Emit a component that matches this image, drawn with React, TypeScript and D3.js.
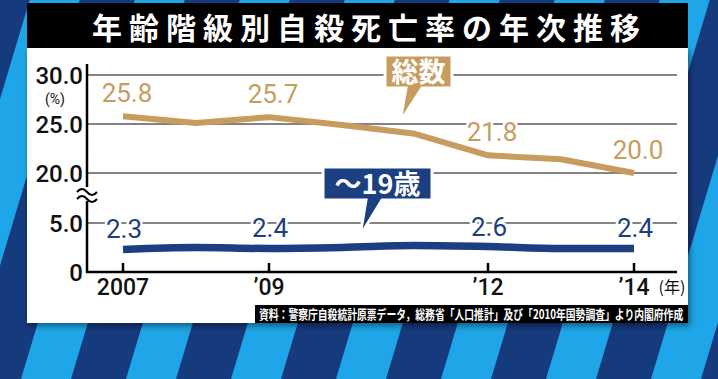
import React from "react";
import * as d3 from "d3";

const years = [2007, 2008, 2009, 2010, 2011, 2012, 2013, 2014];
const totalRate = [25.8, 25.1, 25.7, 24.9, 24.0, 21.8, 21.4, 20.0];
const youthRate = [2.3, 2.5, 2.4, 2.5, 2.7, 2.6, 2.4, 2.4];
const totalLabelIdx = [0, 2, 5, 7];
const youthLabelIdx = [0, 2, 5, 7];
const yTicksTop = [30, 25, 20];
const yTicksBottom = [5, 0];
const xTicks = [2007, 2009, 2012, 2014];
const xTickLabels = ["2007", "’09", "’12", "’14"];
const title = "年齢階級別自殺死亡率の年次推移";
const source = "資料：警察庁自殺統計原票データ，総務省「人口推計」及び「2010年国勢調査」より内閣府作成";
const totalName = "総数";
const youthName = "～19歳";

const W = 718;
const H = 379;
const TAN = "#c69c5f";
const NAVY = "#1b3f80";
const NUM_FONT = "Roboto, 'Liberation Sans', Arial, sans-serif";
const JP_FONT = "'Noto Sans CJK JP', 'Noto Sans', sans-serif";

export default function App() {
  const x = d3.scaleLinear().domain([2007, 2014]).range([123, 634]);
  const yTop = d3.scaleLinear().domain([20, 30]).range([173, 75]);
  const yBot = d3.scaleLinear().domain([0, 5]).range([272, 223]);
  const y = (v: number) => (v >= 15 ? yTop(v) : yBot(v));

  const axisX = 87;
  const plotRight = 677;

  const totalLine = d3
    .line<number>()
    .x((_, i) => x(years[i]))
    .y((d) => y(d))
    .curve(d3.curveLinear)(totalRate) as string;
  const youthLine = d3
    .line<number>()
    .x((_, i) => x(years[i]))
    .y((d) => y(d))
    .curve(d3.curveMonotoneX)(youthRate) as string;

  // background stripes
  const stripes: string[] = [];
  const P = 105;
  const slope = 0.3;
  for (let k = -4; k < 9; k++) {
    const x0 = 21 + k * P;
    const w = 50;
    stripes.push(
      `M${x0},${H} L${x0 + w},${H} L${x0 + w + slope * H},0 L${x0 + slope * H},0 Z`
    );
  }

  const calloutPath = (
    bx0: number, by0: number, bx1: number, by1: number,
    tl: number, tr: number, tipX: number, tipY: number
  ) => `M${bx0},${by0} H${bx1} V${by1} H${tr} L${tipX},${tipY} L${tl},${by1} H${bx0} Z`;

  const gridVals = [...yTicksTop, 5];

  return (
    <svg
      width={W}
      height={H}
      style={{ position: "absolute", left: 0, top: 0 }}
      xmlns="http://www.w3.org/2000/svg"
    >
      <defs>
        <filter id="sh" x="-5%" y="-5%" width="110%" height="115%">
          <feDropShadow dx="2" dy="3" stdDeviation="3" floodColor="#000" floodOpacity="0.45" />
        </filter>
      </defs>
      <rect x={0} y={0} width={W} height={H} fill="#163a7e" />
      {stripes.map((d, i) => (
        <path key={i} d={d} fill="#1ea6e8" />
      ))}

      {/* panel */}
      <rect x={27} y={48} width={661} height={275} fill="#ffffff" filter="url(#sh)" />
      <rect x={27} y={3} width={661} height={45} fill="#000000" />
      <text
        x={92}
        y={39}
        textLength={548}
        lengthAdjust="spacing"
        fill="#fff"
        fontFamily={JP_FONT}
        fontWeight={700}
        fontSize={30}
      >
        {title}
      </text>

      {/* gridlines */}
      {gridVals.map((v) => (
        <line key={v} x1={axisX} x2={plotRight} y1={y(v)} y2={y(v)} stroke="#5a5a5a" strokeWidth={1.5} />
      ))}

      {/* axes */}
      <line x1={axisX} x2={axisX} y1={64} y2={187} stroke="#000" strokeWidth={2.5} />
      <line x1={axisX} x2={axisX} y1={201} y2={273} stroke="#000" strokeWidth={2.5} />
      <path d="M77,192 q5,-6 10,0 t10,0 L97,199 q-5,6 -10,0 t-10,0 Z" fill="#fff" stroke="none" />
      <path d="M77,192 q5,-6 10,0 t10,0" fill="none" stroke="#000" strokeWidth={2} />
      <path d="M77,199 q5,-6 10,0 t10,0" fill="none" stroke="#000" strokeWidth={2} />
      <line x1={axisX - 1} x2={plotRight} y1={y(0)} y2={y(0)} stroke="#000" strokeWidth={2.5} />
      {xTicks.map((t) => (
        <line key={t} x1={x(t)} x2={x(t)} y1={y(0)} y2={y(0) - 9} stroke="#000" strokeWidth={2.5} />
      ))}

      {/* y labels */}
      {[...yTicksTop, ...yTicksBottom].map((v) => (
        <text
          key={v}
          x={83}
          y={y(v) + 8.5}
          textAnchor="end"
          fontFamily={NUM_FONT}
          fontWeight={500}
          fontSize={24}
          fill="#111"
        >
          {v === 0 ? "0" : v.toFixed(1)}
        </text>
      ))}
      <text x={55} y={104} textAnchor="middle" fontFamily={NUM_FONT} fontSize={14} fill="#111">
        (%)
      </text>

      {/* x labels */}
      {xTicks.map((t, i) => (
        <text
          key={t}
          x={x(t)}
          y={295}
          textAnchor="middle"
          fontFamily={NUM_FONT}
          fontWeight={500}
          fontSize={23}
          fill="#111"
        >
          {xTickLabels[i]}
        </text>
      ))}
      <text x={672} y={293} textAnchor="middle" fontFamily={JP_FONT} fontSize={16} fill="#111">
        (年)
      </text>

      {/* lines */}
      <path d={totalLine} fill="none" stroke={TAN} strokeWidth={6} strokeLinejoin="round" />
      <path d={youthLine} fill="none" stroke={NAVY} strokeWidth={7.5} strokeLinejoin="round" />

      {/* value labels */}
      {totalLabelIdx.map((i) => (
        <text
          key={"t" + i}
          x={x(years[i]) + 4}
          y={y(totalRate[i]) - 14}
          textAnchor="middle"
          fontFamily={NUM_FONT}
          fontSize={26}
          fill={TAN}
          stroke="#fff"
          strokeWidth={5}
          paintOrder="stroke"
        >
          {totalRate[i].toFixed(1)}
        </text>
      ))}
      {youthLabelIdx.map((i) => (
        <text
          key={"y" + i}
          x={x(years[i]) + 1}
          y={y(youthRate[i]) - 11}
          textAnchor="middle"
          fontFamily={NUM_FONT}
          fontSize={26}
          fill={NAVY}
          stroke="#fff"
          strokeWidth={5}
          paintOrder="stroke"
        >
          {youthRate[i].toFixed(1)}
        </text>
      ))}

      {/* callouts */}
      <path
        d={calloutPath(385, 55, 452, 88, 406, 422, 400, 122)}
        fill={TAN}
        stroke="#fff"
        strokeWidth={3}
        strokeLinejoin="miter"
      />
      <text x={418.5} y={82} textAnchor="middle" fontFamily={JP_FONT} fontWeight={700} fontSize={27} fill="#fff">
        {totalName}
      </text>
      <path
        d={calloutPath(323, 167, 432, 200, 366, 382, 360, 236)}
        fill={NAVY}
        stroke="#fff"
        strokeWidth={3}
        strokeLinejoin="miter"
      />
      <text x={377.5} y={194} textAnchor="middle" fontFamily={JP_FONT} fontWeight={700} fontSize={27} fill="#fff">
        {youthName}
      </text>

      {/* source */}
      <rect x={255} y={305} width={433} height={18} fill="#000" />
      <g transform="translate(259,319) scale(0.755,1)">
        <text
          x={0}
          y={0}
          fontFamily={JP_FONT}
          fontWeight={700}
          fontSize={13}
          fill="#fff"
        >
          {source}
        </text>
      </g>
    </svg>
  );
}
